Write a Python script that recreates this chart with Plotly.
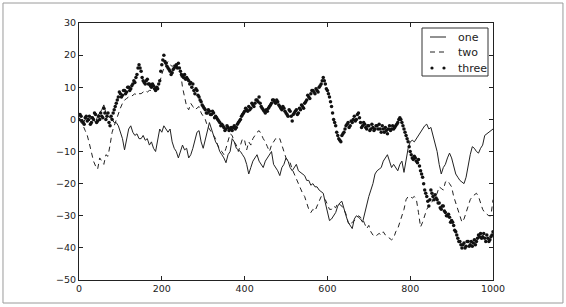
import plotly.graph_objects as go

# x positions (step of 5 along the 0..1000 index)
steps = list(range(0, 1001, 5))
mid_steps = [s + 2.5 for s in range(0, 1000, 5)]

one = [
    0, -0.5, -1, 0, 0.5, -0.5, 1, 0, -1, 1, 2, 3, 4.5, 2, 1, 0.5, 0, -1, -1, -2,
    -4, -6, -9.5, -6, -3, -2, -4, -5, -4.5, -6, -6, -5, -6.5, -6, -8, -7, -9, -10, -6, -3,
    -4, -2, -3, -4, -3, -7, -9, -10, -12, -10, -8, -9.5, -9, -12, -11, -9, -6, -4, -3.5, -7,
    -9, -6, -3, -1, -3, -5, -7, -8, -10, -11, -12, -13.5, -11, -10, -6, -7, -9, -9.5, -10, -11,
    -12, -14, -17, -15, -13, -12, -11, -13, -14, -15, -13, -12, -11, -10, -14, -15, -16, -17.5, -15, -14,
    -12, -13, -15, -16, -15, -14, -16, -16.5, -17, -17.5, -19, -19, -20.5, -20, -21, -21, -22, -22.5, -23, -26,
    -29, -31.5, -31, -30, -29, -27, -26, -25.5, -28, -30, -32, -33, -34, -31, -30, -30.5, -31, -32, -29, -27,
    -24, -22, -20, -17, -16, -15.5, -15, -13, -12, -11, -13, -15, -14, -15, -16, -14, -13, -16.5, -12, -9,
    -7, -6.5, -7, -6, -5, -4, -3, -2, -1.5, -3, -2.5, -5, -7, -10, -14, -17, -15, -14, -12, -10.5,
    -12, -15, -17, -18, -19, -19.5, -20, -18, -14, -11, -8.5, -9, -10, -10.5, -9, -8, -5, -4.5, -4, -3.5,
    -3,
]

two = [
    0, -1, -2, -3.5, -5, -7.5, -10, -13, -14.5, -15.5, -12, -13, -14, -11, -11.5, -8, -4, -2, 0, 2,
    3.5, 5, 6, 6.5, 7, 7, 7.5, 8, 7.5, 8, 8, 8.5, 9, 8.5, 9, 9, 9.5, 10, 10, 11.5,
    14, 16, 17, 18, 17, 16.5, 17, 17.5, 16, 15, 10, 7, 4, 3, 5, 4, 3, 3.5, 4, 2,
    1, 0, -2, -3, -4, -5, -6, -8, -9.5, -10, -11, -9, -7, -4.5, -5, -7, -8, -10, -8, -6,
    -6.5, -9.5, -7, -8, -6, -5, -4, -3.5, -4.5, -6, -7, -8.5, -10, -8, -7, -6, -6.5, -6, -8, -10,
    -12, -13, -13.5, -15.5, -17, -19, -20, -22, -23, -24, -26, -28, -29, -28, -28.5, -27, -26, -24, -24.5, -25,
    -26.5, -28, -28, -27, -27.5, -26, -26.5, -27, -28, -29.5, -32, -33, -32, -31.5, -31, -30, -30.5, -31, -32.5, -34,
    -33, -35, -36, -36.5, -36, -35.5, -36, -35, -36, -36.5, -37, -37.5, -37, -35, -34, -32, -30, -28, -25, -24,
    -24, -24.5, -24, -25, -29, -33.5, -32, -30, -28, -27, -26.5, -25, -24.5, -23, -21, -21.5, -22, -19.5, -19, -20,
    -21, -24, -26, -28, -30, -32, -31, -29, -27, -25, -24, -23.5, -23, -24, -26, -28, -29, -29.5, -30, -30,
    -25,
]

three = [
    0, 1, -1, 0.5, -0.5, 1, -1, 0, 1.5, -0.5, 0, 1, 3.5, 0, 2, -2, 0, 3, 5, 7,
    8, 7.5, 9, 8.5, 10, 9.5, 11, 11.5, 14, 17, 15, 12, 11, 12.5, 11, 10, 10.5, 9, 9.5, 12,
    17, 20, 17.5, 16, 15, 14.5, 16, 17, 17.5, 15, 13.5, 14, 13, 12, 11.5, 11, 8, 9, 7, 5.5,
    4, 3, 2, 2.5, 1.5, 2, 1, 0, -1, -1.5, -2.5, -3, -2.5, -3, -3.5, -2, -2.5, -1, 0, 1.5,
    2.5, 3, 4, 3.5, 4.5, 5, 6, 7, 4, 3, 2, 2.5, 4, 5, 6, 5, 5.5, 4, 3, 3.5,
    2, 1, 2.5, -0.5, 2, 3, 2, 3, 4, 5, 6, 7, 8, 9, 8, 9, 10, 11, 13, 11,
    9, 7, 4, 0, -2, -5, -6.5, -5, -4, -2, -1, -2, -1, 1, 0, 2, -1, -2, -1.5, -3,
    -2, -3, -2.5, -3, -2, -1.5, -4, -3, -2.5, -4.5, -2, -3, -3, -2, -1, 0.5, -1, -3, -5, -7,
    -10, -12, -11.5, -13, -12.5, -16, -18, -22, -24, -27, -22, -24, -23.5, -25, -26, -28, -27, -29, -30, -30.5,
    -31.5, -33, -35, -37, -38, -40, -38.5, -39.5, -38, -39, -39.5, -37.5, -38, -36, -35.5, -36.5, -37, -36, -38, -36.5,
    -35,
]

three_mid = [
    1.5, -0.5, -1.5, 1, 0, -1.5, 0.5, 2, -1, 1, 2, 0.5, 2, 1, -1, 1, 2, 4, 6, 8.5,
    7, 9, 8, 10, 9, 10.5, 12, 13, 16, 16, 13, 11.5, 12, 11, 10.5, 11, 9.5, 10, 11, 15,
    18.5, 18, 16.5, 15.5, 14, 15.5, 16.5, 16, 16, 14, 13, 12.5, 12.5, 11, 10, 9, 9.5, 7.5, 6, 4.5,
    3.5, 2, 3, 1.5, 2.5, 0.5, 0.5, -0.5, -2, -2, -3.5, -2, -3.5, -2.5, -2.5, -3, -1.5, -0.5, 1, 2,
    3.5, 2.5, 3, 5, 4, 6, 5.5, 5, 3.5, 2.5, 3, 3.5, 4.5, 6, 5.5, 6, 4.5, 3.5, 4, 2.5,
    1.5, 3, 1, 1.5, 2.5, 1.5, 3.5, 4.5, 3.5, 5.5, 7.5, 6.5, 9, 8.5, 9.5, 8.5, 10.5, 12, 12, 9.5,
    8, 5.5, 2, -1, -4, -6, -7, -4.5, -3, -1.5, -2.5, -0.5, 0, -0.5, 1.5, 0.5, -2.5, -1, -2.5, -2,
    -3.5, -1.5, -3.5, -2, -3, -3, -2, -4, -3.5, -3, -3.5, -2, -2.5, -1.5, 0, 0, -2, -4, -6, -8.5,
    -11, -12.5, -12, -13.5, -14.5, -17, -20, -23, -25.5, -25, -23, -25, -24.5, -26, -27.5, -27, -28.5, -30, -29.5, -32,
    -32, -34.5, -36, -38, -39, -39, -40, -38, -39.5, -38, -38.5, -39, -37, -36.5, -37, -35.5, -38, -37, -37.5, -36,
]

series_names = ["one", "two", "three"]
x_ticks = [0, 200, 400, 600, 800, 1000]
y_ticks = [30, 20, 10, 0, -10, -20, -30, -40, -50]

INK = "#222222"
DASH = "5px,4px"

fig = go.Figure()
fig.add_trace(go.Scatter(x=steps, y=one, mode="lines", name=series_names[0],
                         line=dict(color=INK, width=1), showlegend=False))
fig.add_trace(go.Scatter(x=steps, y=two, mode="lines", name=series_names[1],
                         line=dict(color=INK, width=1, dash=DASH), showlegend=False))
fig.add_trace(go.Scatter(x=steps + mid_steps, y=three + three_mid, mode="markers",
                         name=series_names[2],
                         marker=dict(color="#111111", size=3.5, line=dict(width=0)),
                         showlegend=False))

axis_common = dict(
    showgrid=False, zeroline=False, showline=True, linecolor=INK, linewidth=1,
    ticks="inside", ticklen=4, tickcolor=INK, mirror="ticks",
    tickfont=dict(family="DejaVu Sans", size=9.5, color=INK),
)

# legend drawn by hand (paper coordinates of the plot area)
def px(xp):
    return (xp - 79) / 414.0

def py(yp):
    return (280 - yp) / 257.0

shapes = [
    dict(type="rect", xref="paper", yref="paper",
         x0=-0.1836, x1=1.169, y0=-0.0895, y1=1.0778,
         line=dict(color="#9a9a9a", width=1), layer="below"),
    dict(type="rect", xref="paper", yref="paper",
         x0=px(422), x1=px(488), y0=py(76), y1=py(28),
         line=dict(color="#333333", width=1), fillcolor="white", layer="above"),
    dict(type="line", xref="paper", yref="paper",
         x0=px(430), x1=px(446), y0=py(37), y1=py(37),
         line=dict(color=INK, width=1)),
    dict(type="line", xref="paper", yref="paper",
         x0=px(430), x1=px(447), y0=py(52), y1=py(52),
         line=dict(color=INK, width=1, dash=DASH)),
]
for cx in (432, 444):
    shapes.append(dict(type="circle", xref="paper", yref="paper",
                       x0=px(cx - 1.6), x1=px(cx + 1.6), y0=py(68 + 1.6), y1=py(68 - 1.6),
                       line=dict(width=0), fillcolor="#111111"))

annotations = []
for name, yy in zip(series_names, (37, 52, 68)):
    annotations.append(dict(xref="paper", yref="paper", x=px(456), y=py(yy),
                            xanchor="left", yanchor="middle", showarrow=False,
                            text=name,
                            font=dict(family="DejaVu Sans", size=11, color=INK)))

fig.update_layout(
    width=566, height=307,
    margin=dict(l=79, r=73, t=23, b=27),
    paper_bgcolor="white", plot_bgcolor="white",
    xaxis=dict(range=[0, 1000], tickvals=x_ticks, **axis_common),
    yaxis=dict(range=[-50, 30], tickvals=y_ticks, **axis_common),
    showlegend=False,
    shapes=shapes,
    annotations=annotations,
)

fig.write_html("out.html")
